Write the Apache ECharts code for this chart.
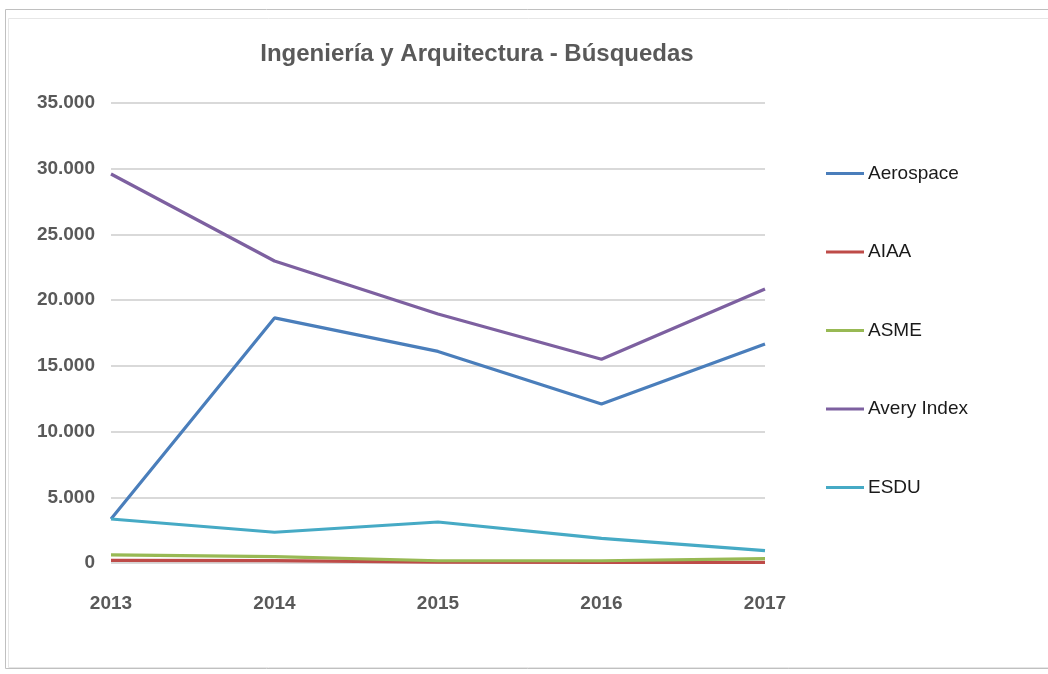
<!DOCTYPE html>
<html><head><meta charset="utf-8">
<script src="https://cdn.jsdelivr.net/npm/echarts@6/dist/echarts.min.js"></script>
<style>html,body{margin:0;padding:0;background:#fff}#c{width:1048px;height:674px}</style>
</head><body><div id="c"></div>
<script>
const years = ['2013','2014','2015','2016','2017'];
const aerospace = [3350, 18650, 16100, 12100, 16670];
const aiaa = [200, 180, 60, 50, 50];
const asme = [620, 480, 170, 170, 330];
const avery = [29600, 22980, 18950, 15500, 20850];
const esdu = [3350, 2340, 3120, 1880, 940];
const yTicks = [0, 5000, 10000, 15000, 20000, 25000, 30000, 35000];

const font = '"Liberation Sans Narrow", "Liberation Sans", Arial, sans-serif';
const chart = echarts.init(document.getElementById('c'));
function mk(name, data, color) {
  return { name, type: 'line', data, symbol: 'none', smooth: false,
    lineStyle: { width: 3.2, color }, itemStyle: { color } };
}
chart.setOption({
  animation: false,
  title: { text: 'Ingeniería y Arquitectura - Búsquedas', left: 472, top: 37, textAlign: 'center',
    textStyle: { fontFamily: font, fontSize: 24, fontWeight: 'bold', color: '#595959' } },
  graphic: [
    { type: 'rect', shape: { x: 5.5, y: 9.5, width: 1100, height: 659 }, style: { fill: 'none', stroke: '#c0c0c0', lineWidth: 1 } },
    { type: 'rect', shape: { x: 8.5, y: 18.5, width: 1100, height: 649 }, style: { fill: 'none', stroke: '#e6e6e6', lineWidth: 1 } }
  ],
  legend: { orient: 'vertical', left: 821, top: 159, itemWidth: 38, itemHeight: 14, itemGap: 59.5,
    icon: 'path://M0,6 L38,6 L38,9 L0,9 Z',
    textStyle: { fontFamily: font, fontSize: 19, color: '#1a1a1a', padding: [0,0,0,-1] },
    data: ['Aerospace','AIAA','ASME','Avery Index','ESDU'] },
  grid: { left: 111, right: 283, top: 103, bottom: 111 },
  xAxis: { type: 'category', data: years, boundaryGap: false,
    axisLine: { show: false }, axisTick: { show: false },
    axisLabel: { fontFamily: font, fontSize: 19, fontWeight: 'bold', color: '#595959', margin: 31 } },
  yAxis: { type: 'value', min: 0, max: 35000, interval: 5000,
    axisLine: { show: false }, axisTick: { show: false },
    splitLine: { lineStyle: { color: '#d9d9d9', width: 2 } },
    axisLabel: { fontFamily: font, fontSize: 19, fontWeight: 'bold', color: '#595959', margin: 16,
      formatter: v => yTicks.includes(v) ? v.toLocaleString('de-DE') : '' } },
  series: [
    mk('Aerospace', aerospace, '#4a7ebb'),
    mk('AIAA', aiaa, '#be4b48'),
    mk('ASME', asme, '#98b954'),
    mk('Avery Index', avery, '#7d60a0'),
    mk('ESDU', esdu, '#46aac5')
  ]
});
</script></body></html>
